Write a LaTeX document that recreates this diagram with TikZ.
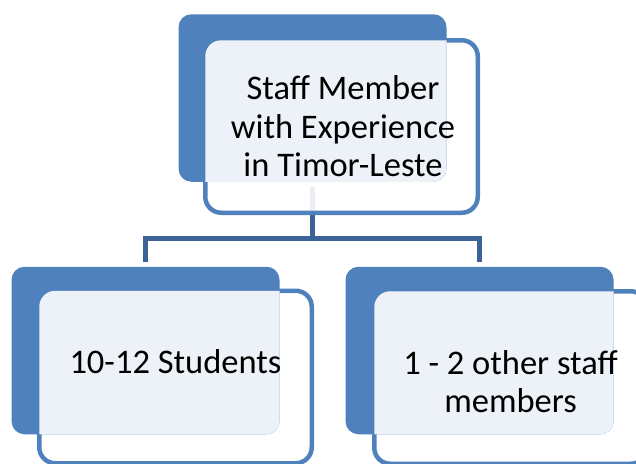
\documentclass[tikz,border=0pt]{standalone}
\usepackage{fontspec}
\setmainfont{Carlito}
\usetikzlibrary{calc}

\definecolor{smblue}{RGB}{79,129,189}
\definecolor{smline}{RGB}{60,99,150}

\pgfdeclarelayer{paper}
\pgfdeclarelayer{links}
\pgfdeclarelayer{fronts}
\pgfsetlayers{paper,links,fronts,main}

\tikzset{
  backbox/.style={fill=smblue, rounded corners=13pt, minimum width=268pt, minimum height=167.5pt, inner sep=0pt, outer sep=0pt},
  frontbox/.style={draw=smblue, line width=4.5pt, fill=white, fill opacity=0.9, rounded corners=16pt, minimum width=272.5pt, minimum height=172.5pt, inner sep=0pt, outer sep=0pt},
  link/.style={draw=smline, line width=5pt, shorten <=5pt, shorten >=5pt},
  boxtext/.style={align=center, inner sep=0pt, text=black, font=\fontsize{34.5}{38.5}\selectfont}
}

\begin{document}
\begin{tikzpicture}[x=1pt,y=1pt,yscale=-1]
\useasboundingbox (0,0) rectangle (636,463);
\begin{pgfonlayer}{paper}
\fill[white] (0,0) rectangle (636,463);
\end{pgfonlayer}

% back boxes
\node[backbox] (staffB) at (312.5,98) {};
\node[backbox] (studB) at (145.5,350.5) {};
\node[backbox] (othB) at (479.5,350.5) {};

% front boxes, under the back ones
\begin{pgfonlayer}{fronts}
\node[frontbox] (staffF) at ($(staffB.center)+(29,28.5)$) {};
\node[frontbox] (studF) at ($(studB.center)+(30,26.5)$) {};
\node[frontbox] (othF) at ($(othB.center)+(31,27)$) {};
\end{pgfonlayer}

% light part where front and back overlap
\begin{scope}
\clip[rounded corners=13pt] (staffB.south west) rectangle (staffB.north east);
\fill[white, opacity=0.9, rounded corners=16pt] (staffF.south west) rectangle (staffF.north east);
\end{scope}
\begin{scope}
\clip[rounded corners=13pt] (studB.south west) rectangle (studB.north east);
\fill[white, opacity=0.9, rounded corners=16pt] (studF.south west) rectangle (studF.north east);
\end{scope}
\begin{scope}
\clip[rounded corners=13pt] (othB.south west) rectangle (othB.north east);
\fill[white, opacity=0.9, rounded corners=16pt] (othF.south west) rectangle (othF.north east);
\end{scope}

% connectors
\begin{pgfonlayer}{links}
\draw[link] (staffB.south) -- ++(0,57) -| (studB.north);
\draw[link] (staffB.south) -- ++(0,57) -| (othB.north);
\end{pgfonlayer}

% texts
\node[boxtext] (staffT) at ($(staffF.center)+(1.5,0)$) {Staff Member\\with Experience\\in Timor-Leste};
\node[boxtext] (studT) at ($(studF.center)+(0,-15)$) {10-12 Students};
\node[boxtext] (othT) at ($(othF.center)+(0,4)$) {1 - 2 other staff\\members};

\end{tikzpicture}
\end{document}
